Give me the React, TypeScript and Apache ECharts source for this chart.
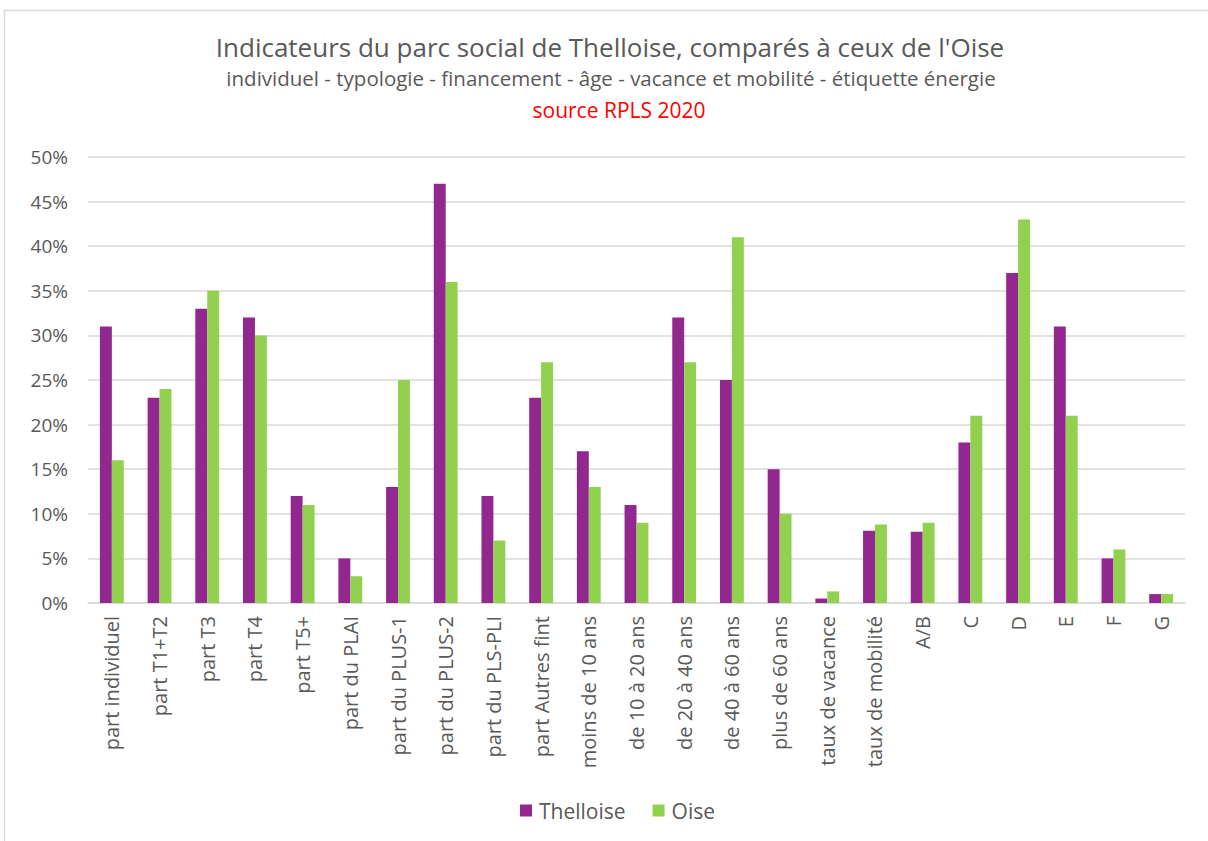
import React, { useEffect, useRef } from "react";
import * as echarts from "echarts";

const categories = [
  "part individuel", "part T1+T2", "part T3", "part T4", "part T5+", "part du PLAI",
  "part du PLUS-1", "part du PLUS-2", "part du PLS-PLI", "part Autres fint",
  "moins de 10 ans", "de 10 à 20 ans", "de 20 à 40 ans", "de 40 à 60 ans", "plus de 60 ans",
  "taux de vacance", "taux de mobilité", "A/B", "C", "D", "E", "F", "G",
];
const thelloise = [31, 23, 33, 32, 12, 5, 13, 47, 12, 23, 17, 11, 32, 25, 15, 0.5, 8.1, 8, 18, 37, 31, 5, 1];
const oise = [16, 24, 35, 30, 11, 3, 25, 36, 7, 27, 13, 9, 27, 41, 10, 1.3, 8.8, 9, 21, 43, 21, 6, 1];

const titleText = "Indicateurs du parc social de Thelloise, comparés à ceux de l'Oise";
const subtitleText = "individuel - typologie - financement - âge - vacance et mobilité - étiquette énergie";
const sourceText = "source RPLS 2020";

export default function App() {
  const ref = useRef<HTMLDivElement>(null);
  useEffect(() => {
    document.body.style.margin = "0";
    const chart = echarts.init(ref.current!, null, { renderer: "svg" });
    const sans = "'Open Sans', 'Noto Sans', sans-serif";
    chart.setOption({
      animation: false,
      backgroundColor: "#ffffff",
      graphic: [
        {
          type: "rect",
          shape: { x: 4.5, y: 10.5, width: 1220, height: 840 },
          style: { fill: "none", stroke: "#d9d9d9", lineWidth: 1.5 },
          silent: true,
        },
        {
          type: "text",
          x: 610,
          y: 47,
          style: {
            text: titleText,
            fontFamily: sans,
            fontSize: 26,
            fill: "#595959",
            align: "center",
            verticalAlign: "middle",
          },
        },
        {
          type: "text",
          x: 611,
          y: 78,
          style: {
            text: subtitleText,
            fontFamily: sans,
            fontSize: 20.5,
            fill: "#595959",
            align: "center",
            verticalAlign: "middle",
          },
        },
        {
          type: "text",
          x: 619,
          y: 110,
          style: {
            text: sourceText,
            fontFamily: sans,
            fontSize: 21,
            fill: "#ff0000",
            align: "center",
            verticalAlign: "middle",
          },
        },
      ],
      legend: {
        bottom: 15,
        left: 515,
        itemWidth: 12,
        itemHeight: 12,
        itemGap: 27,
        icon: "rect",
        textStyle: { fontFamily: sans, fontSize: 21, color: "#595959", padding: [0, 0, 0, 2] },
        data: ["Thelloise", "Oise"],
      },
      grid: { left: 88, right: 23, top: 157, bottom: 238, containLabel: false },
      xAxis: {
        type: "category",
        data: categories,
        axisLine: { lineStyle: { color: "#d9d9d9", width: 1.5 } },
        axisTick: { show: false },
        axisLabel: {
          rotate: 90,
          interval: 0,
          margin: 13,
          fontFamily: sans,
          fontSize: 20,
          color: "#595959",
        },
      },
      yAxis: {
        type: "value",
        min: 0,
        max: 50,
        interval: 5,
        axisLine: { show: false },
        axisTick: { show: false },
        splitLine: { lineStyle: { color: "#d9d9d9", width: 1.5 } },
        axisLabel: {
          formatter: "{value}%",
          margin: 20,
          fontFamily: sans,
          fontSize: 19,
          color: "#595959",
        },
      },
      series: [
        {
          name: "Thelloise",
          type: "bar",
          data: thelloise,
          itemStyle: { color: "#92278F" },
          barGap: "0%",
          barCategoryGap: "50%",
        },
        {
          name: "Oise",
          type: "bar",
          data: oise,
          itemStyle: { color: "#92D050" },
          barGap: "0%",
          barCategoryGap: "50%",
        },
      ],
    });
    return () => chart.dispose();
  }, []);
  return <div ref={ref} style={{ width: 1208, height: 841 }} />;
}
